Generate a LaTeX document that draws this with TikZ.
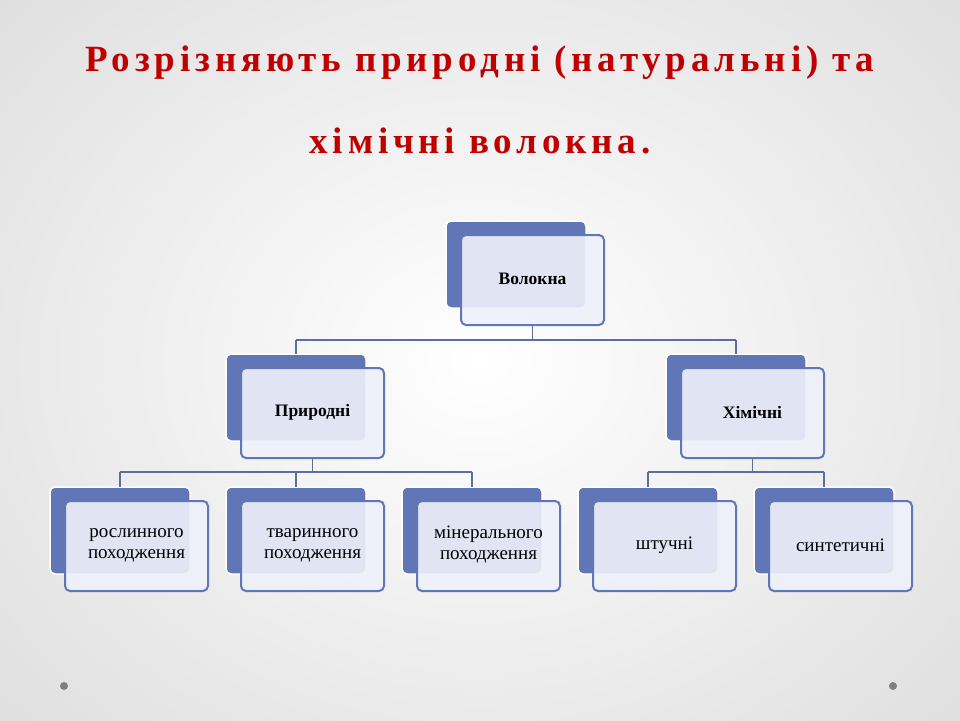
\documentclass[tikz,border=0pt]{standalone}
\usepackage{fontspec}
\setmainfont{Liberation Serif}
\newfontfamily\titlefont[LetterSpace=13]{Liberation Serif}
\definecolor{tred}{HTML}{C00000}
\definecolor{bblue}{HTML}{6176B6}
\definecolor{fill2}{HTML}{EEF1FA}
\definecolor{lineb}{HTML}{5D6E9E}
\begin{document}
\begin{tikzpicture}[x=1pt,y=-1pt,
  back/.style={fill=bblue,draw=white,line width=1.5pt,rounded corners=5pt},
  front/.style={fill=fill2,fill opacity=0.9,draw=bblue,line width=2pt,rounded corners=5pt,text opacity=1},
  lbl/.style={font=\fontsize{19}{21}\selectfont,align=center,text=black},
  blbl/.style={font=\bfseries\fontsize{17.5}{20}\selectfont,text=black},
  conn/.style={draw=lineb,line width=1.6pt}]
\useasboundingbox (0,0) rectangle (960,720);
\begin{scope}
\clip (0,0) rectangle (960,720);
\shade[inner color=white,outer color=black!13] (-200,-200) rectangle (1160,920);
\end{scope}
\node[font=\titlefont\bfseries\fontsize{37}{37}\selectfont,text=tred] (t1) at (480,63) {Розрізняють природні (натуральні) та};
\node[font=\titlefont\bfseries\fontsize{37}{37}\selectfont,text=tred] (t2) at (480,141) {хімічні волокна.};
\newcommand\mybox[5]{%
  \draw[back] (#1,#2) rectangle ++(140,87);
  \draw[front] (#1+15,#2+14) rectangle ++(143,90);
  \node[#5] (#3) at (#1+86.5,#2+58) {#4};
  \coordinate (#3t) at (#1+70,#2);
  \coordinate (#3b) at (#1+86.5,#2+104);}
\mybox{446}{221}{vol}{Волокна}{blbl}
\mybox{226}{354}{pry}{Природні}{blbl}
\mybox{666}{354}{khi}{Хімічні}{blbl}
\mybox{50}{487}{b1}{рослинного\\походження}{lbl}
\mybox{226}{487}{b2}{тваринного\\походження}{lbl}
\mybox{402}{487}{b3}{мінерального\\походження}{lbl}
\mybox{578}{487}{b4}{штучні}{lbl}
\mybox{754}{487}{b5}{синтетичні}{lbl}
\coordinate (j1) at (0,340);
\coordinate (j2) at (0,472);
\draw[conn] (volb) -- (volb|-j1);
\draw[conn] (pryt|-j1) -- (khit|-j1);
\draw[conn] (pryt|-j1) -- (pryt);
\draw[conn] (khit|-j1) -- (khit);
\draw[conn] (pryb) -- (pryb|-j2);
\draw[conn] (b1t|-j2) -- (b3t|-j2);
\foreach \n in {b1,b2,b3} \draw[conn] (\n t|-j2) -- (\n t);
\draw[conn] (khib) -- (khib|-j2);
\draw[conn] (b4t|-j2) -- (b5t|-j2);
\foreach \n in {b4,b5} \draw[conn] (\n t|-j2) -- (\n t);
\fill[gray] (64,686) circle (4) (893,686) circle (4);
\end{tikzpicture}
\end{document}
